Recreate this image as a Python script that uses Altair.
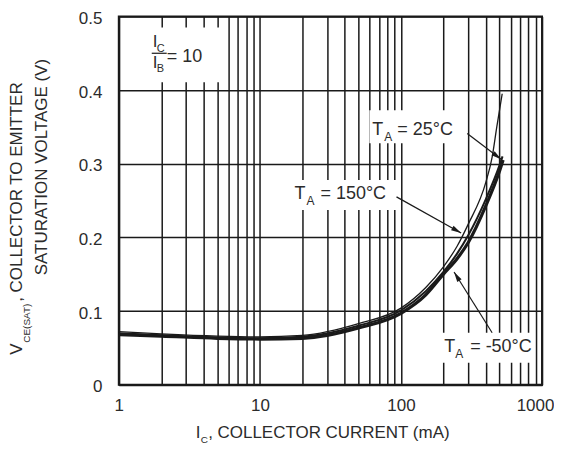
import math
import altair as alt
import pandas as pd

# ---------------- data ----------------
# Collector current (mA) and VCE(sat) (V) for each ambient temperature
I_25 = [1, 2, 5, 10, 20, 50, 100, 150, 200, 250, 300, 400, 443, 478, 522]
V_25 = [0.072, 0.069, 0.066, 0.065, 0.067, 0.083, 0.104, 0.132, 0.160, 0.188, 0.218, 0.275, 0.309, 0.350, 0.395]

I_150 = [1, 2, 5, 10, 20, 50, 100, 150, 200, 250, 300, 400, 500, 525]
V_150 = [0.070, 0.067, 0.064, 0.063, 0.065, 0.080, 0.101, 0.127, 0.153, 0.178, 0.203, 0.252, 0.298, 0.310]

I_M50 = [1, 2, 5, 10, 20, 50, 100, 150, 200, 250, 300, 400, 500, 530]
V_M50 = [0.068, 0.066, 0.063, 0.062, 0.063, 0.077, 0.097, 0.122, 0.150, 0.171, 0.193, 0.243, 0.290, 0.305]

# axis ticks / grid
X_GRID = [1, 2, 3, 4, 5, 6, 7, 8, 9, 10, 20, 30, 40, 50, 60, 70, 80, 90,
          100, 200, 300, 400, 500, 600, 700, 800, 900, 1000]
X_LABELED = [1, 10, 100, 1000]
Y_GRID = [0, 0.1, 0.2, 0.3, 0.4, 0.5]

# arrows (tail -> tip), in data units
ARROW_I0 = [295, 93, 443]
ARROW_V0 = [0.341, 0.255, 0.0705]
ARROW_I1 = [513, 267, 238]
ARROW_V1 = [0.306, 0.206, 0.153]

# annotation texts (data units)
ANN_TEXT = ["T", "A", "= 25°C", "T", "A", "= 150°C", "T", "A", "= -50°C",
            "I", "C", "I", "B", "= 10"]
ANN_I = [62.7, 76.2, 94.2, 17.6, 21.4, 26.9, 202.6, 242.4, 309.5,
         1.74, 1.857, 1.74, 1.857, 2.186]
ANN_V = [0.3388, 0.3306, 0.3388, 0.252, 0.2439, 0.252, 0.0447, 0.0366, 0.0447,
         0.458, 0.4512, 0.4295, 0.4241, 0.4377]
ANN_SIZE = [18, 12, 18, 18, 12, 18, 18, 12, 18, 17, 11, 17, 11, 18]

# fraction bar of Ic/Ib
FRAC_I = [1.712, 2.186]
FRAC_V = [0.4499, 0.4499]

# white label backgrounds (data units)
BOX_I0 = [1.08, 59.7, 14.9, 186.8]
BOX_I1 = [5.36, 285.0, 92.7, 892.0]
BOX_V0 = [0.4106, 0.3279, 0.2371, 0.0298]
BOX_V1 = [0.4850, 0.3726, 0.2778, 0.0705]

YT_SUB = "CE(SAT)"
YT_LINE1 = ", COLLECTOR TO EMITTER"
YT_LINE2 = "SATURATION VOLTAGE (V)"
XT_SUB = "C"
XT_MAIN = ", COLLECTOR CURRENT (mA)"

# ---------------- chart ----------------
W, H = 424, 369
FONT = "Liberation Sans"
INK = "#1a1a1a"
TXT = "#2b2b2b"

xscale = alt.Scale(type="log", domain=[1, 1000], nice=False)
yscale = alt.Scale(domain=[0, 0.5], nice=False, zero=False)

lab_expr = "indexof([" + ",".join(str(v) for v in X_LABELED) + "], datum.value) >= 0 ? '' + datum.value : ''"
xaxis = alt.Axis(values=X_GRID, grid=True, title=None, labelExpr=lab_expr,
                 labelOverlap=False, labelFlush=False, ticks=False, tickSize=0,
                 labelPadding=13, labelFontSize=17,
                 labelOffset={"condition": {"test": "datum.value == 1000", "value": -7}, "value": 0})
yaxis = alt.Axis(values=Y_GRID, grid=True, title=None, format="~g",
                 labelOverlap=False, labelFlush=False, ticks=False, tickSize=0,
                 labelPadding=17, labelFontSize=17, labelOffset=2)

X = alt.X("I:Q", scale=xscale, axis=xaxis)
Y = alt.Y("V:Q", scale=yscale, axis=yaxis)


def curve_df(I, V):
    return pd.DataFrame({"I": I, "V": V})


boxes = alt.Chart(pd.DataFrame({"I": BOX_I0, "I2": BOX_I1, "V": BOX_V0, "V2": BOX_V1})).mark_rect(
    color="white", stroke=None).encode(x=X, x2="I2:Q", y=Y, y2="V2:Q")

l_m50 = alt.Chart(curve_df(I_M50, V_M50)).mark_line(
    color=INK, strokeWidth=3.2, interpolate="monotone").encode(x=X, y=Y)
l_150 = alt.Chart(curve_df(I_150, V_150)).mark_line(
    color=INK, strokeWidth=2.0, interpolate="monotone").encode(x=X, y=Y)
l_25 = alt.Chart(curve_df(I_25, V_25)).mark_line(
    color=INK, strokeWidth=1.3, interpolate="monotone").encode(x=X, y=Y)


def px(i):
    return W * math.log10(i) / 3


def py(v):
    return H * (1 - v / 0.5)


angles = []
for a, b, c, d in zip(ARROW_I0, ARROW_V0, ARROW_I1, ARROW_V1):
    dx = px(c) - px(a)
    dy = py(d) - py(b)
    angles.append(math.degrees(math.atan2(dx, -dy)) % 360)

arr_df = pd.DataFrame({"I": ARROW_I0, "V": ARROW_V0, "I2": ARROW_I1, "V2": ARROW_V1})
rules = alt.Chart(arr_df).mark_rule(color=INK, strokeWidth=1.2).encode(
    x=X, y=Y, x2="I2:Q", y2="V2:Q")

head_df = pd.DataFrame({"I": ARROW_I1, "V": ARROW_V1, "ang": angles})
heads = alt.Chart(head_df).mark_point(
    shape="M0,0L-0.32,1.25L0.32,1.25Z", filled=True, size=260, color=INK, opacity=1,
    strokeWidth=0).encode(x=X, y=Y, angle=alt.Angle("ang:Q", scale=None))

frac = alt.Chart(pd.DataFrame({"I": [FRAC_I[0]], "I2": [FRAC_I[1]], "V": [FRAC_V[0]]})).mark_rule(
    color=TXT, strokeWidth=1.3).encode(x=X, x2="I2:Q", y=Y)

ann = alt.Chart(pd.DataFrame({"I": ANN_I, "V": ANN_V, "t": ANN_TEXT, "s": ANN_SIZE})).mark_text(
    align="left", baseline="alphabetic", font=FONT, color=TXT).encode(
    x=X, y=Y, text="t:N", size=alt.Size("s:Q", scale=None, legend=None))


def ptext(txt, x, y, size, angle=0, align="left"):
    return alt.Chart(pd.DataFrame({"t": [txt]})).mark_text(
        align=align, baseline="alphabetic", font=FONT, color=TXT, fontSize=size,
        angle=angle).encode(x=alt.value(x), y=alt.value(y), text="t:N")


titles = [
    ptext("V", -97, 339, 17, 270),
    ptext(YT_SUB, -89, 327, 10, 270),
    ptext(YT_LINE1, -97, 286, 17, 270),
    ptext(YT_LINE2, -72, 151, 17, 270, "center"),
    ptext("I", 77, 422, 17),
    ptext(XT_SUB, 82, 427, 10),
    ptext(XT_MAIN, 89.5, 422, 17),
]

chart = alt.layer(boxes, l_m50, l_150, l_25, rules, heads, frac, ann, *titles).properties(
    width=W, height=H,
    autosize=alt.AutoSizeParams(type="none"),
    padding={"left": 111, "top": 8, "right": 12, "bottom": 60},
).configure_axis(
    gridColor=INK, gridWidth=1.5, gridOpacity=1,
    domainColor=INK, domainWidth=2,
    labelColor=TXT, labelFont=FONT,
).configure_view(stroke=INK, strokeWidth=2)

chart.save("out.html", embed_options={"renderer": "svg", "actions": False})
